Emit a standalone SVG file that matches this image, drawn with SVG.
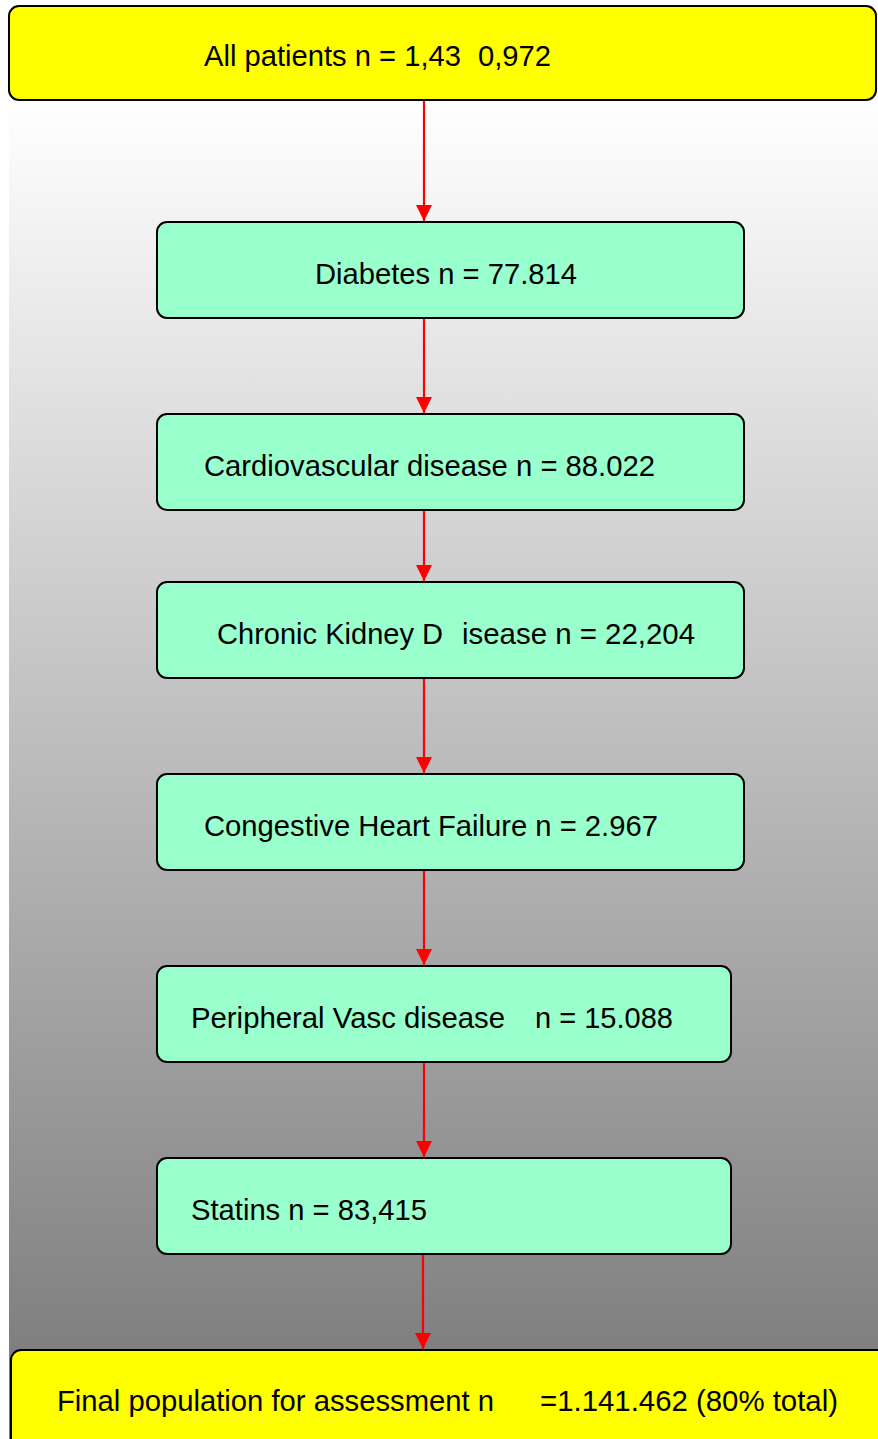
<svg xmlns="http://www.w3.org/2000/svg" width="878" height="1439" viewBox="0 0 878 1439">
<defs>
<linearGradient id="bg" gradientUnits="userSpaceOnUse" x1="0" y1="100" x2="0" y2="1350">
<stop offset="0" stop-color="#ffffff"/>
<stop offset="1" stop-color="#7f7f7f"/>
</linearGradient>
<marker id="ah" markerWidth="16" markerHeight="16" refX="16" refY="8" orient="auto" markerUnits="userSpaceOnUse" viewBox="0 0 16 16">
<path d="M0,0 L16,8 L0,16 Z" fill="#ff0000"/>
</marker>
</defs>
<style>
.y{fill:#ffff00;stroke:#000;stroke-width:2}
.g{fill:#99ffcc;stroke:#000;stroke-width:2}
.t{font-family:"Liberation Sans",Arial,sans-serif;font-size:30px;fill:#000}
.c{stroke:#ff0000;stroke-width:2.2;fill:none}
</style>
<rect x="0" y="0" width="878" height="1439" fill="#ffffff"/>
<rect x="9" y="100" width="869" height="1339" fill="url(#bg)"/>
<g id="connectors">
<line class="c" x1="424" y1="100" x2="424" y2="221" marker-end="url(#ah)"/>
<line class="c" x1="424" y1="318" x2="424" y2="413" marker-end="url(#ah)"/>
<line class="c" x1="424" y1="510" x2="424" y2="581" marker-end="url(#ah)"/>
<line class="c" x1="424" y1="678" x2="424" y2="773" marker-end="url(#ah)"/>
<line class="c" x1="424" y1="870" x2="424" y2="965" marker-end="url(#ah)"/>
<line class="c" x1="424" y1="1062" x2="424" y2="1157" marker-end="url(#ah)"/>
<line class="c" x1="423" y1="1252" x2="423" y2="1349" marker-end="url(#ah)"/>
</g>
<g id="all-patients">
<rect class="y" x="9" y="6" width="867" height="94" rx="10"/>
<text class="t" y="66"><tspan x="204" textLength="257" lengthAdjust="spacingAndGlyphs">All patients n = 1,43</tspan><tspan x="478" textLength="73" lengthAdjust="spacingAndGlyphs">0,972</tspan></text>
</g>
<g id="diabetes">
<rect class="g" x="157" y="222" width="587" height="96" rx="10"/>
<text class="t" x="315" y="284" textLength="262" lengthAdjust="spacingAndGlyphs">Diabetes n = 77.814</text>
</g>
<g id="cvd">
<rect class="g" x="157" y="414" width="587" height="96" rx="10"/>
<text class="t" x="204" y="476" textLength="451" lengthAdjust="spacingAndGlyphs">Cardiovascular disease n = 88.022</text>
</g>
<g id="ckd">
<rect class="g" x="157" y="582" width="587" height="96" rx="10"/>
<text class="t" y="644"><tspan x="217" textLength="226" lengthAdjust="spacingAndGlyphs">Chronic Kidney D</tspan><tspan x="462" textLength="233" lengthAdjust="spacingAndGlyphs">isease n = 22,204</tspan></text>
</g>
<g id="chf">
<rect class="g" x="157" y="774" width="587" height="96" rx="10"/>
<text class="t" x="204" y="836" textLength="454" lengthAdjust="spacingAndGlyphs">Congestive Heart Failure n = 2.967</text>
</g>
<g id="pvd">
<rect class="g" x="157" y="966" width="574" height="96" rx="10"/>
<text class="t" y="1028"><tspan x="191" textLength="314" lengthAdjust="spacingAndGlyphs">Peripheral Vasc disease</tspan><tspan x="535" textLength="138" lengthAdjust="spacingAndGlyphs">n = 15.088</tspan></text>
</g>
<g id="statins">
<rect class="g" x="157" y="1158" width="574" height="96" rx="10"/>
<text class="t" x="191" y="1220" textLength="236" lengthAdjust="spacingAndGlyphs">Statins n = 83,415</text>
</g>
<g id="final">
<rect class="y" x="11" y="1350" width="880" height="110" rx="10"/>
<text class="t" y="1411"><tspan x="57" textLength="437" lengthAdjust="spacingAndGlyphs">Final population for assessment n</tspan><tspan x="540" textLength="298" lengthAdjust="spacingAndGlyphs">=1.141.462 (80% total)</tspan></text>
</g>
</svg>
